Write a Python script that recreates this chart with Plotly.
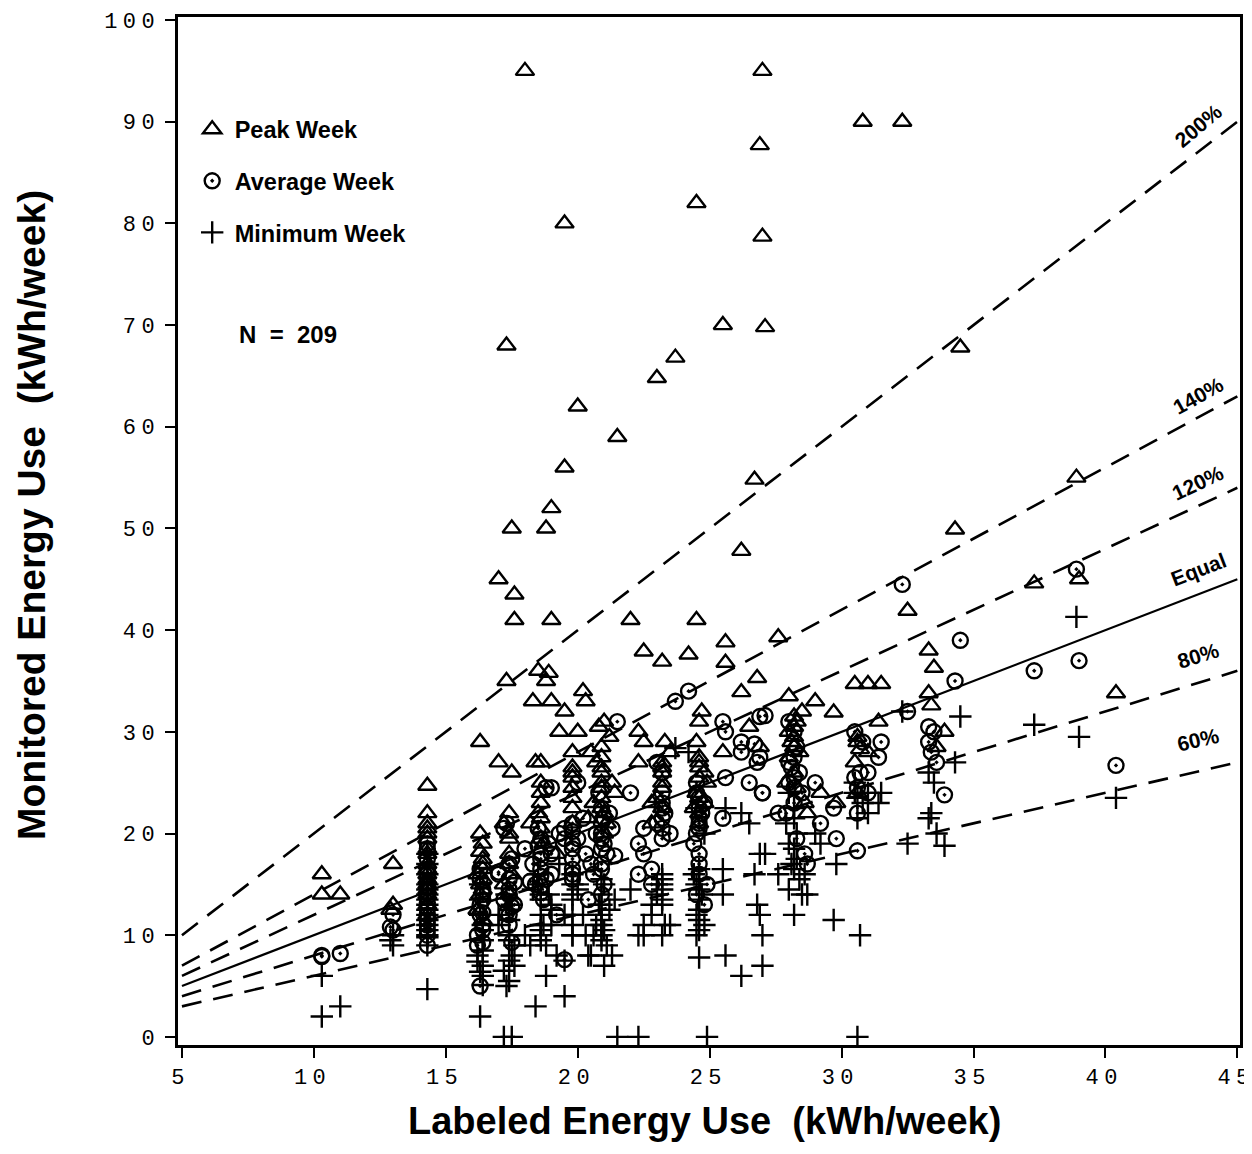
import plotly.graph_objects as go

# ---- data: one row per appliance (labeled kWh/week, peak, average, minimum monitored kWh/week)
labeled = [
    10.3, 10.3, 11.0, 13.0, 13.0, 12.9,
    14.3, 14.3, 14.3, 14.3, 14.3, 14.3, 14.3, 14.3, 14.3, 14.3, 14.3, 14.3, 14.3, 14.3, 14.3, 14.3, 14.3,
    16.3, 16.3, 16.3, 16.4, 16.2, 16.3, 16.3, 16.4, 16.2, 16.4,
    17.3, 17.0, 17.6, 17.6, 17.3, 17.5, 17.2, 17.5, 17.4, 17.5, 17.2, 17.0,
    18.0, 18.8, 19.0, 19.0, 18.5, 18.9, 18.3, 19.0, 18.4, 18.6, 18.8, 19.5, 19.5, 19.5, 18.2, 18.7, 19.2, 18.5, 19.3, 19.8,
    20.0, 20.2, 20.0, 20.3, 20.5, 20.7, 20.8, 21.0, 21.0, 21.1, 21.0, 21.2, 21.5, 21.3, 20.6, 20.4, 20.9, 21.4,
    22.0, 22.5, 22.3, 22.5, 22.3, 22.8, 23.0, 23.2, 23.3, 23.0, 23.2, 22.8, 23.5,
    23.7, 24.2, 24.5, 24.5, 24.7, 24.6, 24.5, 24.6, 24.9, 24.5, 24.8, 24.4, 24.8,
    25.5, 25.6, 25.6, 25.5, 26.2, 26.7, 26.8, 26.2, 26.9, 27.0, 27.0, 27.1, 27.6, 26.5,
    28.0, 28.2, 28.3, 28.0, 28.1, 28.4, 28.0, 28.5, 28.2, 27.9, 28.3, 28.6, 28.7, 29.0, 29.2,
    29.7, 29.8, 30.5, 30.6, 30.7, 30.5, 30.6, 30.8, 31.0, 31.5, 31.4, 31.0,
    32.3, 32.5, 33.3, 33.5, 33.3, 33.4, 33.9, 34.5, 34.3, 33.6,
    37.3, 38.9, 39.0, 40.4,
    16.4, 16.4, 16.4, 16.4,
    17.4, 17.4, 17.4, 17.4, 17.4,
    18.6, 18.6, 18.6, 18.6, 18.6, 18.6,
    19.8, 19.8, 19.8, 19.8, 19.8, 19.8, 19.8,
    20.9, 20.9, 20.9, 20.9, 20.9, 20.9, 20.9,
    23.2, 23.2, 23.2, 23.2, 23.2,
    24.6, 24.6, 24.6, 24.6, 24.6, 24.6,
    28.2, 28.2, 28.2, 26.9, 30.6,
]
peak = [
    16.0, 14.0, 14.0, 17.0, 13.0, 12.5,
    24.7, 22.0, 20.5, 20.0, 19.5, 18.5, 18.0, 17.0, 16.5, 16.0, 15.5, 15.0, 14.5, 14.0, 13.0, 12.0, 21.0,
    29.0, 20.0, 18.2, 17.0, 16.0, 15.0, 14.0, 16.5, 12.5, 11.5,
    68.0, 45.0, 43.5, 41.0, 35.0, 26.0, 21.0, 50.0, 20.0, 16.0, 15.0, 27.0,
    95.0, 50.0, 52.0, 41.0, 36.0, 35.8, 33.0, 33.0, 27.0, 27.0, 35.0, 80.0, 56.0, 32.0, 21.0, 19.0, 18.0, 22.0, 30.0, 26.0,
    62.0, 34.0, 30.0, 33.0, 28.0, 27.0, 30.5, 31.0, 22.0, 21.0, 20.0, 29.5, 59.0, 25.0, 23.0, 21.5, 26.5, 24.0,
    41.0, 37.9, 30.0, 29.0, 27.0, 23.0, 64.8, 36.9, 29.0, 23.5, 22.5, 21.0, 28.0,
    66.8, 37.6, 82.0, 41.0, 32.0, 31.0, 29.0, 27.0, 25.0, 24.0, 23.0, 22.5, 26.0,
    70.0, 38.8, 36.8, 28.0, 47.8, 54.8, 35.3, 33.9, 87.7, 95.0, 78.7, 69.8, 39.3, 30.5,
    33.5, 31.5, 31.0, 30.0, 29.0, 28.0, 27.5, 32.0, 26.0, 25.0, 24.5, 23.0, 22.0, 33.0, 24.0,
    31.9, 23.0, 34.7, 29.0, 28.3, 27.0, 24.0, 90.0, 34.7, 34.7, 31.0, 28.0,
    90.0, 41.9, 38.0, 36.3, 33.8, 32.6, 30.0, 67.8, 49.9, 28.5,
    44.6, 55.0, 45.0, 33.8,
    19.0, 17.5, 15.5, 14.5,
    19.5, 18.0, 17.0, 14.0, 22.0,
    24.0, 23.0, 21.5, 20.5, 19.5, 25.0,
    28.0, 26.5, 25.5, 23.5, 22.5, 21.0, 24.5,
    28.5, 27.5, 26.0, 25.0, 23.5, 22.5, 24.5,
    27.0, 26.0, 25.0, 24.5, 26.5,
    27.5, 26.5, 25.5, 23.5, 22.0, 21.0,
    30.5, 29.5, 28.5, 28.5, 29.5,
]
average = [
    8.0, 7.9, 8.2, 12.0, 10.5, 10.8,
    19.0, 17.5, 16.5, 16.0, 15.2, 14.8, 14.3, 13.8, 13.2, 12.6, 12.0, 11.5, 11.0, 10.5, 9.0, 10.0, 18.5,
    16.5, 15.5, 13.0, 12.2, 9.0, 5.0, 12.0, 14.5, 10.0, 9.3,
    21.0, 16.0, 15.2, 13.0, 12.2, 9.3, 20.5, 17.5, 14.5, 12.8, 13.5, 16.2,
    18.5, 24.5, 24.5, 18.0, 20.5, 19.0, 17.0, 16.0, 15.0, 14.2, 15.5, 20.5, 19.5, 7.6, 15.3, 13.5, 12.0, 18.8, 20.0, 16.5,
    25.0, 21.5, 19.5, 18.0, 17.0, 20.0, 24.0, 21.5, 19.0, 18.0, 15.0, 22.0, 31.0, 20.5, 16.0, 13.5, 14.0, 17.8,
    24.0, 20.5, 19.0, 18.0, 16.0, 15.0, 27.0, 26.0, 22.0, 21.0, 19.5, 16.5, 20.0,
    33.0, 34.0, 25.0, 24.0, 22.0, 21.0, 20.0, 17.0, 15.0, 14.0, 13.0, 19.0, 23.0,
    31.0, 25.5, 30.0, 21.5, 29.0, 28.8, 27.0, 28.0, 31.5, 24.0, 24.0, 31.6, 22.0, 25.0,
    31.0, 30.0, 28.5, 27.0, 26.5, 26.0, 25.0, 24.0, 23.0, 22.0, 19.5, 18.0, 17.0, 25.0, 21.0,
    22.5, 19.5, 30.0, 22.0, 26.0, 25.5, 18.3, 29.0, 26.0, 29.0, 27.5, 24.0,
    44.5, 32.0, 30.5, 30.0, 29.0, 28.0, 23.8, 39.0, 35.0, 27.0,
    36.0, 46.0, 37.0, 26.7,
    14.0, 13.5, 11.0, 10.5,
    15.5, 14.0, 12.0, 11.0, 17.0,
    19.5, 18.0, 16.5, 15.8, 14.8, 17.5,
    21.0, 20.2, 18.5, 17.5, 16.0, 15.5, 19.0,
    22.5, 21.0, 19.5, 18.5, 17.0, 16.5, 20.0,
    24.0, 23.0, 22.5, 21.5, 20.5,
    23.5, 22.5, 21.5, 20.5, 18.0, 16.0,
    27.5, 25.5, 24.5, 27.5, 24.5,
]
minimum = [
    6.0, 2.0, 3.0, 10.0, 9.0, 9.5,
    18.0, 16.0, 15.0, 14.5, 14.0, 13.5, 13.0, 12.5, 12.0, 11.5, 11.0, 10.5, 10.0, 9.8, 4.7, 9.0, 17.0,
    15.0, 13.5, 12.0, 9.5, 7.4, 2.0, 6.4, 5.1, 8.0, 7.0,
    14.0, 11.0, 9.0, 7.0, 5.0, 0.0, 0.0, 13.0, 10.0, 8.0, 6.5, 12.0,
    10.0, 9.0, 11.0, 12.5, 15.0, 14.0, 14.5, 13.0, 3.0, 10.0, 6.0, 12.0, 4.0, 7.5, 9.0, 11.0, 8.0, 16.0, 17.0, 10.0,
    15.0, 12.0, 14.5, 10.0, 8.0, 11.0, 13.0, 15.0, 10.5, 9.0, 7.0, 12.5, 0.0, 8.0, 10.0, 8.0, 11.5, 13.5,
    14.5, 10.0, 10.0, 11.0, 0.0, 12.0, 15.0, 13.0, 11.0, 14.0, 10.0, 13.0, 11.0,
    28.4, 28.0, 22.5, 15.0, 14.0, 10.5, 10.0, 7.8, 0.0, 12.0, 11.0, 16.0, 20.0,
    16.5, 8.0, 22.5, 14.0, 22.0, 16.0, 13.0, 6.0, 12.0, 10.0, 7.0, 18.0, 16.0, 21.0,
    24.0, 22.5, 20.0, 19.0, 17.0, 15.5, 14.5, 14.0, 12.0, 21.0, 17.5, 16.0, 14.0, 20.0, 19.0,
    11.5, 17.0, 25.0, 21.5, 10.0, 24.0, 0.0, 23.0, 24.0, 24.0, 23.0, 22.0,
    32.0, 19.0, 26.0, 25.0, 21.5, 22.0, 18.8, 31.5, 27.0, 20.0,
    30.7, 41.3, 29.5, 23.5,
    11.0, 10.5, 8.5, 6.0,
    11.5, 9.5, 7.5, 5.5, 12.5,
    14.0, 13.5, 12.0, 10.5, 9.5, 11.0,
    16.0, 15.0, 13.5, 12.0, 11.0, 10.0, 14.0,
    14.0, 13.0, 12.0, 11.0, 10.0, 9.5, 15.5,
    16.0, 15.0, 14.5, 15.5, 13.5,
    16.5, 15.5, 14.5, 13.5, 12.5, 11.5,
    21.5, 18.5, 16.5, 18.0, 23.5,
]

# reference lines: monitored = ratio * labeled
ratios = [2.0, 1.4, 1.2, 1.0, 0.8, 0.6]
ratio_labels = ["200%", "140%", "120%", "Equal", "80%", "60%"]
line_x = [5, 45]
label_angles = [-40, -29, -25, -21, -17, -13]
label_shift = [25, 21, 22, 24, 27, 31]

x_ticks = [5, 10, 15, 20, 25, 30, 35, 40, 45]
y_ticks = [0, 10, 20, 30, 40, 50, 60, 70, 80, 90, 100]


def spaced(v):
    # digits separated by a narrow gap, as in the original typewriter-style tick labels
    return "<span style='font-size:9px'> </span>".join(str(v))


fig = go.Figure()

for r in ratios:
    fig.add_trace(go.Scatter(
        x=line_x, y=[r * v for v in line_x], mode="lines",
        line=dict(color="black", width=2.2 if r == 1.0 else 2.6,
                  dash="solid" if r == 1.0 else "20px,12px"),
        showlegend=False, hoverinfo="skip"))

mk_line = dict(color="black", width=2.4)
fig.add_trace(go.Scatter(
    x=labeled, y=peak, mode="markers", name="Peak Week", legendgroup="a",
    marker=dict(symbol="triangle-up-open", size=16, color="black", line=mk_line)))
fig.add_trace(go.Scatter(
    x=labeled, y=average, mode="markers", name="Average Week", legendgroup="b",
    marker=dict(symbol="circle-open-dot", size=15, color="black", line=mk_line)))
fig.add_trace(go.Scatter(
    x=labeled, y=minimum, mode="markers", name="Minimum Week", legendgroup="c",
    marker=dict(symbol="cross-thin-open", size=16, color="black", line=mk_line)))

for r, lab, ang, sh in zip(ratios, ratio_labels, label_angles, label_shift):
    fig.add_annotation(x=43.6, y=r * 43.6, text=f"<b>{lab}</b>", showarrow=False,
                       textangle=ang, yshift=sh, xshift=-2,
                       font=dict(family="Liberation Sans, Arial", size=21, color="black"))

fig.add_annotation(x=0.0555, y=0.6907, xref="paper", yref="paper", xanchor="left",
                   yanchor="middle", text="<b>N  =  209</b>", showarrow=False,
                   font=dict(family="Liberation Sans, Arial", size=24, color="black"))

# axis titles as annotations for exact placement
fig.add_annotation(x=-0.1375, y=0.5156, xref="paper", yref="paper",
                   xanchor="center", yanchor="middle", textangle=-90, showarrow=False,
                   text="<b>Monitored Energy Use  (kWh/week)</b>",
                   font=dict(family="Liberation Sans, Arial", size=39, color="black"))
fig.add_annotation(x=0.496, y=-0.0735, xref="paper", yref="paper",
                   xanchor="center", yanchor="middle", showarrow=False,
                   text="<b>Labeled Energy Use  (kWh/week)</b>",
                   font=dict(family="Liberation Sans, Arial", size=38, color="black"))

axis_common = dict(showline=True, linewidth=3, linecolor="black", mirror=True,
                   ticks="outside", ticklen=10, tickwidth=2, tickcolor="black",
                   showgrid=False, zeroline=False, ticklabeloverflow="allow",
                   tickfont=dict(family="Liberation Mono, DejaVu Sans Mono, monospace",
                                 size=22, color="black"))

fig.update_xaxes(range=[4.85, 45.1], tickvals=x_ticks, ticktext=[spaced(v) for v in x_ticks],
                 ticklabelshift=-4, **axis_common)
fig.update_yaxes(range=[-0.8, 100.3], tickvals=y_ticks, ticktext=[spaced(v) for v in y_ticks],
                 ticklabelstandoff=6, **axis_common)

# page body has an 8px margin: the figure is sized/offset to compensate
fig.update_layout(
    width=1244, height=1146,
    margin=dict(l=170, r=12, t=9, b=109, autoexpand=False),
    plot_bgcolor="white", paper_bgcolor="white",
    legend=dict(x=0.011, y=0.912, xanchor="left", yanchor="top",
                bgcolor="rgba(0,0,0,0)", tracegroupgap=18,
                font=dict(family="Liberation Sans, Arial", size=23.5, color="black", weight="bold"),
                itemwidth=35),
)

fig.write_html("out.html")
